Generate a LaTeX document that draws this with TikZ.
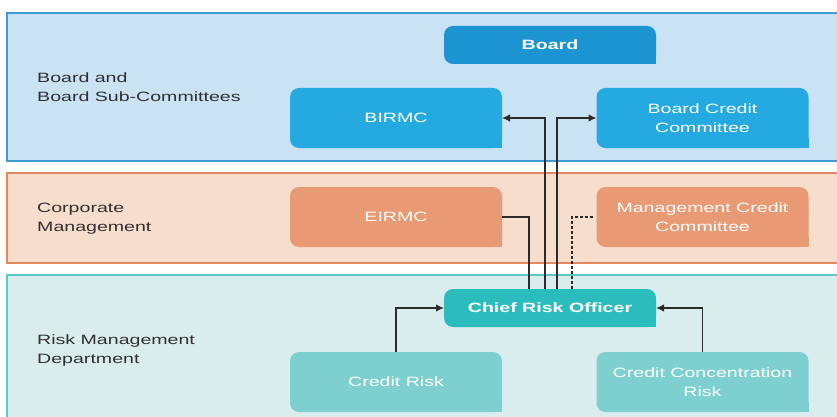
\documentclass[tikz,border=0pt]{standalone}
\usepackage{fontspec}
\setmainfont{Liberation Sans}[FakeStretch=1.45]
\usepackage{tikz}
\usetikzlibrary{arrows.meta, positioning, calc}

\definecolor{tierblue}{HTML}{C9E2F4}
\definecolor{tierblueline}{HTML}{3C9BD4}
\definecolor{tierorange}{HTML}{F7DDCC}
\definecolor{tierorangeline}{HTML}{E4895F}
\definecolor{tierteal}{HTML}{D9EEEC}
\definecolor{tiertealline}{HTML}{5CC9C9}
\definecolor{boardblue}{HTML}{1B94D1}
\definecolor{committeeblue}{HTML}{24A9E1}
\definecolor{mgmtorange}{HTML}{E89A74}
\definecolor{croteal}{HTML}{2BBDBE}
\definecolor{riskteal}{HTML}{7ECFD0}
\definecolor{labelgray}{HTML}{303030}
\definecolor{linkgray}{HTML}{2B2B2B}

\begin{document}
\begin{tikzpicture}[
  x=1pt, y=1pt,
  tier/.style={rectangle, draw=#1line, fill=#1, line width=1.3pt,
               anchor=north west, minimum width=845pt, inner sep=0pt, outer sep=0pt},
  tierlabel/.style={anchor=west, align=left, text=labelgray, inner sep=0pt,
                    font=\fontsize{13.5}{19}\selectfont},
  unit/.style={rectangle, rounded corners=9pt, fill=#1, text=white, align=center,
               minimum width=212pt, minimum height=60pt, inner sep=0pt, outer sep=0pt,
               font=\fontsize{13.5}{19}\selectfont,
               append after command={\pgfextra{\fill[#1, sharp corners]
                 (\tikzlastnode.south east) rectangle ([xshift=-10pt, yshift=10pt]\tikzlastnode.south east);}}},
  head/.style={unit=#1, minimum height=38pt, font=\fontsize{13.5}{19}\selectfont\bfseries},
  link/.style={draw=linkgray, line width=1.2pt},
  arrow/.style={link, -{Latex[length=8pt, width=7.5pt]}},
]
\useasboundingbox (0,0) rectangle (837,-417);

\node[tier=tierblue,   minimum height=148pt] (boardtier) at (7,-13)  {};
\node[tier=tierorange, minimum height=90pt]  (corptier)  at (7,-173) {};
\node[tier=tierteal,   minimum height=150pt] (risktier)  at (7,-275) {};

\node[tierlabel] (boardlabel) at (37,-87.5) {Board and\\Board Sub-Committees};
\node[tierlabel] (corplabel)  at (37,-219)  {Corporate\\Management};
\node[tierlabel] (risklabel)  at (37,-350.5) {Risk Management\\Department};

\node[head=boardblue]     (board)  at (550,-45)    {Board};
\node[unit=committeeblue] (birmc)  at (396,-118)   {BIRMC};
\node[unit=committeeblue] (bcc)    at (702.5,-118) {Board Credit\\Committee};
\node[unit=mgmtorange]    (eirmc)  at (396,-217)   {EIRMC};
\node[unit=mgmtorange]    (mcc)    at (702.5,-217) {Management Credit\\Committee};
\node[head=croteal]       (cro)    at (550,-308)   {Chief Risk Officer};
\node[unit=riskteal]      (credit) at (396,-382)   {Credit Risk};
\node[unit=riskteal]      (ccr)    at (702.5,-382) {Credit Concentration\\Risk};

\draw[arrow] ([xshift=-5pt]cro.north) |- (birmc.east);
\draw[arrow] ([xshift=7pt]cro.north)  |- (bcc.west);
\draw[link]  ([xshift=-21pt]cro.north) |- (eirmc.east);
\draw[link, dash pattern=on 3pt off 2pt] ([xshift=22pt]cro.north) |- ([xshift=-3pt]mcc.west);
\draw[arrow] (credit.north) |- (cro.west);
\draw[arrow] (ccr.north)    |- (cro.east);
\end{tikzpicture}
\end{document}
